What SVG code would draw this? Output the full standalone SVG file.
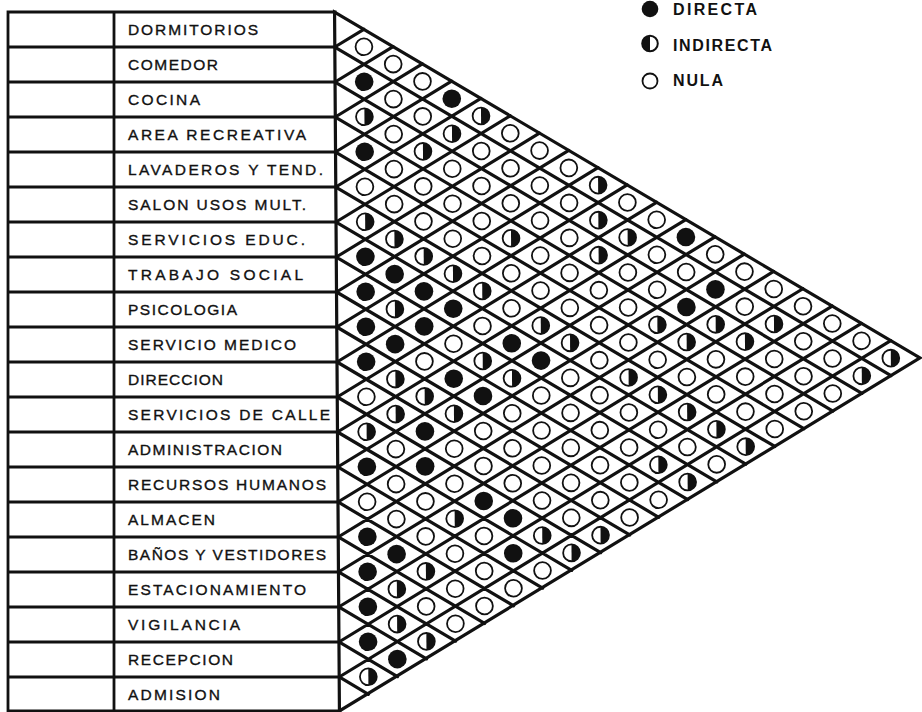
<svg xmlns="http://www.w3.org/2000/svg" xmlns:xlink="http://www.w3.org/1999/xlink" width="922" height="712" viewBox="0 0 922 712">
<style>
.lbl{font-family:"Liberation Sans",Arial,sans-serif;font-size:15.5px;fill:#111;stroke:#111;stroke-width:0.35}
.leg{font-family:"Liberation Sans",Arial,sans-serif;font-size:16px;font-weight:bold;fill:#111}
.tbl{fill:none;stroke:#111;stroke-width:2.8;stroke-linecap:square}
.grid{fill:none;stroke:#111;stroke-width:3.2;stroke-linecap:round}
.frame{fill:none;stroke:#111;stroke-width:3.2;stroke-linejoin:miter}
</style>
<defs>
<circle id="E" r="8.4" fill="#fff" stroke="#111" stroke-width="1.8"/>
<circle id="F" r="9.3" fill="#111"/>
<g id="H"><circle r="8.4" fill="#fff" stroke="#111" stroke-width="1.8"/><path d="M0,-8.4A8.4,8.4 0 0 1 0,8.4Z" fill="#111"/></g>
</defs>
<rect width="922" height="712" fill="#fff"/>

<g id="table">
<path class="tbl" d="M8,12H335.1M8,47H335.3M8,82H335.6M8,117H335.8M8,152H336M8,187H336.3M8,222H336.5M8,257H336.8M8,292H337M8,327H337.3M8,362H337.5M8,397H337.7M8,432H338M8,467H338.2M8,502H338.5M8,537H338.7M8,572H339M8,607H339.2M8,642H339.5M8,677H339.7M8,711H340M8,12V712M114,12V712"/>
</g>

<g id="labels" class="lbl">
<g id="r00"><text x="128" y="35" textLength="130">DORMITORIOS</text></g>
<g id="r01"><text x="128" y="70" textLength="90">COMEDOR</text></g>
<g id="r02"><text x="128" y="105" textLength="72">COCINA</text></g>
<g id="r03"><text x="128" y="140" textLength="178">AREA RECREATIVA</text></g>
<g id="r04"><text x="128" y="175" textLength="195">LAVADEROS Y TEND.</text></g>
<g id="r05"><text x="128" y="210" textLength="178">SALON USOS MULT.</text></g>
<g id="r06"><text x="128" y="245" textLength="177">SERVICIOS EDUC.</text></g>
<g id="r07"><text x="128" y="280" textLength="175">TRABAJO SOCIAL</text></g>
<g id="r08"><text x="128" y="315" textLength="109">PSICOLOGIA</text></g>
<g id="r09"><text x="128" y="350" textLength="168">SERVICIO MEDICO</text></g>
<g id="r10"><text x="128" y="385" textLength="95">DIRECCION</text></g>
<g id="r11"><text x="128" y="420" textLength="202">SERVICIOS DE CALLE</text></g>
<g id="r12"><text x="128" y="455" textLength="154">ADMINISTRACION</text></g>
<g id="r13"><text x="128" y="490" textLength="198">RECURSOS HUMANOS</text></g>
<g id="r14"><text x="128" y="525" textLength="87">ALMACEN</text></g>
<g id="r15"><text x="128" y="560" textLength="198">BAÑOS Y VESTIDORES</text></g>
<g id="r16"><text x="128" y="595" textLength="178">ESTACIONAMIENTO</text></g>
<g id="r17"><text x="128" y="630" textLength="112">VIGILANCIA</text></g>
<g id="r18"><text x="128" y="665" textLength="105">RECEPCION</text></g>
<g id="r19"><text x="128" y="700" textLength="92">ADMISION</text></g>
</g>

<g id="matrix" transform="rotate(-0.4 337 362)">
<g id="connectors">
<path class="grid" d="M337,47L890.85,379.5M337,82L861.7,397M337,117L832.55,414.5M337,152L803.4,432M337,187L774.25,449.5M337,222L745.1,467M337,257L715.95,484.5M337,292L686.8,502M337,327L657.65,519.5M337,362L628.5,537M337,397L599.35,554.5M337,432L570.2,572M337,467L541.05,589.5M337,502L511.9,607M337,537L482.75,624.5M337,572L453.6,642M337,607L424.45,659.5M337,642L395.3,677M337,677L366.15,694.5
M337,47L366.15,29.5M337,82L395.3,47M337,117L424.45,64.5M337,152L453.6,82M337,187L482.75,99.5M337,222L511.9,117M337,257L541.05,134.5M337,292L570.2,152M337,327L599.35,169.5M337,362L628.5,187M337,397L657.65,204.5M337,432L686.8,222M337,467L715.95,239.5M337,502L745.1,257M337,537L774.25,274.5M337,572L803.4,292M337,607L832.55,309.5M337,642L861.7,327M337,677L890.85,344.5"/>
<path class="frame" d="M337,12L920,362L337,711Z"/>
</g>
<g id="cells">
<g transform="translate(366.15,0)"><use href="#E" y="47"/><use href="#F" y="82"/><use href="#H" y="117"/><use href="#F" y="152"/><use href="#E" y="187"/><use href="#H" y="222"/><use href="#F" y="257"/><use href="#F" y="292"/><use href="#F" y="327"/><use href="#F" y="362"/><use href="#E" y="397"/><use href="#H" y="432"/><use href="#F" y="467"/><use href="#E" y="502"/><use href="#F" y="537"/><use href="#F" y="572"/><use href="#F" y="607"/><use href="#F" y="642"/><use href="#H" y="677"/></g>
<g transform="translate(395.3,0)"><use href="#E" y="64.5"/><use href="#E" y="99.5"/><use href="#E" y="134.5"/><use href="#E" y="169.5"/><use href="#E" y="204.5"/><use href="#H" y="239.5"/><use href="#F" y="274.5"/><use href="#H" y="309.5"/><use href="#F" y="344.5"/><use href="#H" y="379.5"/><use href="#H" y="414.5"/><use href="#E" y="449.5"/><use href="#E" y="484.5"/><use href="#E" y="519.5"/><use href="#F" y="554.5"/><use href="#H" y="589.5"/><use href="#H" y="624.5"/><use href="#F" y="659.5"/></g>
<g transform="translate(424.45,0)"><use href="#E" y="82"/><use href="#E" y="117"/><use href="#H" y="152"/><use href="#E" y="187"/><use href="#E" y="222"/><use href="#H" y="257"/><use href="#F" y="292"/><use href="#F" y="327"/><use href="#E" y="362"/><use href="#H" y="397"/><use href="#F" y="432"/><use href="#F" y="467"/><use href="#E" y="502"/><use href="#E" y="537"/><use href="#H" y="572"/><use href="#E" y="607"/><use href="#H" y="642"/></g>
<g transform="translate(453.6,0)"><use href="#F" y="99.5"/><use href="#H" y="134.5"/><use href="#E" y="169.5"/><use href="#E" y="204.5"/><use href="#E" y="239.5"/><use href="#H" y="274.5"/><use href="#F" y="309.5"/><use href="#E" y="344.5"/><use href="#F" y="379.5"/><use href="#H" y="414.5"/><use href="#E" y="449.5"/><use href="#E" y="484.5"/><use href="#H" y="519.5"/><use href="#E" y="554.5"/><use href="#E" y="589.5"/><use href="#E" y="624.5"/></g>
<g transform="translate(482.75,0)"><use href="#H" y="117"/><use href="#E" y="152"/><use href="#E" y="187"/><use href="#E" y="222"/><use href="#E" y="257"/><use href="#H" y="292"/><use href="#E" y="327"/><use href="#H" y="362"/><use href="#F" y="397"/><use href="#E" y="432"/><use href="#E" y="467"/><use href="#F" y="502"/><use href="#E" y="537"/><use href="#E" y="572"/><use href="#E" y="607"/></g>
<g transform="translate(511.9,0)"><use href="#E" y="134.5"/><use href="#E" y="169.5"/><use href="#E" y="204.5"/><use href="#H" y="239.5"/><use href="#E" y="274.5"/><use href="#E" y="309.5"/><use href="#F" y="344.5"/><use href="#H" y="379.5"/><use href="#E" y="414.5"/><use href="#E" y="449.5"/><use href="#E" y="484.5"/><use href="#F" y="519.5"/><use href="#F" y="554.5"/><use href="#E" y="589.5"/></g>
<g transform="translate(541.05,0)"><use href="#E" y="152"/><use href="#E" y="187"/><use href="#E" y="222"/><use href="#E" y="257"/><use href="#E" y="292"/><use href="#H" y="327"/><use href="#F" y="362"/><use href="#E" y="397"/><use href="#E" y="432"/><use href="#E" y="467"/><use href="#E" y="502"/><use href="#H" y="537"/><use href="#E" y="572"/></g>
<g transform="translate(570.2,0)"><use href="#E" y="169.5"/><use href="#E" y="204.5"/><use href="#E" y="239.5"/><use href="#E" y="274.5"/><use href="#E" y="309.5"/><use href="#H" y="344.5"/><use href="#E" y="379.5"/><use href="#E" y="414.5"/><use href="#E" y="449.5"/><use href="#E" y="484.5"/><use href="#E" y="519.5"/><use href="#H" y="554.5"/></g>
<g transform="translate(599.35,0)"><use href="#H" y="187"/><use href="#H" y="222"/><use href="#H" y="257"/><use href="#E" y="292"/><use href="#E" y="327"/><use href="#E" y="362"/><use href="#E" y="397"/><use href="#E" y="432"/><use href="#E" y="467"/><use href="#E" y="502"/><use href="#H" y="537"/></g>
<g transform="translate(628.5,0)"><use href="#E" y="204.5"/><use href="#H" y="239.5"/><use href="#E" y="274.5"/><use href="#E" y="309.5"/><use href="#E" y="344.5"/><use href="#H" y="379.5"/><use href="#E" y="414.5"/><use href="#E" y="449.5"/><use href="#E" y="484.5"/><use href="#E" y="519.5"/></g>
<g transform="translate(657.65,0)"><use href="#E" y="222"/><use href="#E" y="257"/><use href="#E" y="292"/><use href="#H" y="327"/><use href="#E" y="362"/><use href="#H" y="397"/><use href="#E" y="432"/><use href="#H" y="467"/><use href="#E" y="502"/></g>
<g transform="translate(686.8,0)"><use href="#F" y="239.5"/><use href="#E" y="274.5"/><use href="#F" y="309.5"/><use href="#H" y="344.5"/><use href="#E" y="379.5"/><use href="#H" y="414.5"/><use href="#E" y="449.5"/><use href="#H" y="484.5"/></g>
<g transform="translate(715.95,0)"><use href="#E" y="257"/><use href="#F" y="292"/><use href="#H" y="327"/><use href="#E" y="362"/><use href="#E" y="397"/><use href="#H" y="432"/><use href="#E" y="467"/></g>
<g transform="translate(745.1,0)"><use href="#E" y="274.5"/><use href="#E" y="309.5"/><use href="#H" y="344.5"/><use href="#E" y="379.5"/><use href="#E" y="414.5"/><use href="#H" y="449.5"/></g>
<g transform="translate(774.25,0)"><use href="#E" y="292"/><use href="#H" y="327"/><use href="#E" y="362"/><use href="#E" y="397"/><use href="#E" y="432"/></g>
<g transform="translate(803.4,0)"><use href="#E" y="309.5"/><use href="#E" y="344.5"/><use href="#E" y="379.5"/><use href="#E" y="414.5"/></g>
<g transform="translate(832.55,0)"><use href="#E" y="327"/><use href="#E" y="362"/><use href="#E" y="397"/></g>
<g transform="translate(861.7,0)"><use href="#E" y="344.5"/><use href="#H" y="379.5"/></g>
<g transform="translate(890.85,0)"><use href="#H" y="362"/></g>
</g>
</g>

<g id="legend" class="leg">
<g id="leg-directa"><circle cx="650" cy="9" r="8.3" fill="#111"/><text x="673" y="15" textLength="84">DIRECTA</text></g>
<g id="leg-indirecta"><circle cx="650" cy="43.5" r="7.8" fill="#fff" stroke="#111" stroke-width="2"/><path d="M650,35.7A7.8,7.8 0 0 0 650,51.3Z" fill="#111"/><text x="673" y="50.5" textLength="99">INDIRECTA</text></g>
<g id="leg-nula"><circle cx="650" cy="81" r="7.5" fill="none" stroke="#111" stroke-width="1.8"/><text x="673" y="86" textLength="50">NULA</text></g>
</g>
</svg>
